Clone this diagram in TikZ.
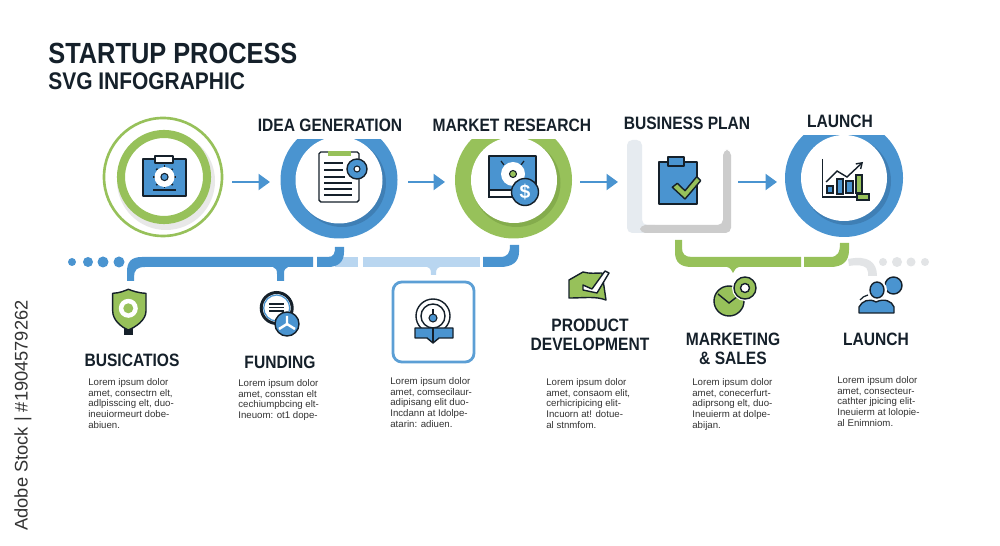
\documentclass[tikz,border=0pt]{standalone}
\usepackage{fontspec}
\setmainfont{Liberation Sans}
\newfontfamily\headfont[FakeStretch=0.87]{Liberation Sans}
\usetikzlibrary{arrows.meta}
\definecolor{stepblue}{HTML}{4A94D0}
\definecolor{stepblueDark}{HTML}{3F7FB5}
\definecolor{stepgreen}{HTML}{97C15A}
\definecolor{stepgreenDark}{HTML}{84AC4C}
\definecolor{inkdark}{HTML}{15202A}
\definecolor{paleblue}{HTML}{B9D6F0}
\definecolor{palegrey}{HTML}{E2E4E6}
\definecolor{palestrip}{HTML}{E6EBF0}
\def\px{0.02cm}
\tikzset{
	hub/.style={rectangle, inner sep=0pt, outer sep=0pt, minimum height=0pt},
	heading/.style={font=\headfont\bfseries\fontsize{10.2}{10.8}\selectfont, text=inkdark, align=center, inner sep=0pt},
	bodytext/.style={font=\fontsize{5.5}{6.1}\selectfont, text=black!80, align=left, anchor=north west, inner sep=0pt},
	flow/.style={line width=1.5pt, stepblue, -{Triangle[length=6.5pt,width=9pt]}},
	ink/.style={draw=inkdark, line width=0.8pt, line join=round},
	inkthin/.style={draw=inkdark, line width=0.6pt}
}
\begin{document}
\begin{tikzpicture}[x=0.02cm, y=-0.02cm]
	\useasboundingbox (0,0) rectangle (1000,546);
	\fill[white] (0,0) rectangle (1000,546);

	\node (title) [anchor=base west, inner sep=0pt, text=inkdark, font=\headfont\bfseries\fontsize{16.6}{16}\selectfont] at (48,64) {STARTUP PROCESS};
	\node (subtitle) [anchor=base west, inner sep=0pt, text=inkdark, font=\headfont\bfseries\fontsize{13.7}{13}\selectfont] at (48,90) {SVG INFOGRAPHIC};
	\node (stock) [rotate=90, anchor=west, inner sep=0pt, text=black!80, font=\fontsize{10.4}{11}\selectfont] at (23,531) {Adobe Stock | \#1904579262};

	% first ring
	\fill[black!9] (166,181) circle (49);
	\fill[white] (164,177) circle (44);
	\draw[stepgreen, line width=1.5pt] (163,177) circle (59);
	\draw[stepgreen, line width=4.6pt] (164,177) circle (43);

	% cut rings
	\begin{scope}
		\clip (270,140) rectangle (400,245);
		\fill[stepblue] (339,180) circle (58.5);
		\fill[stepblueDark] (342,183) circle (44);
		\fill[white] (339,180) circle (43.5);
	\end{scope}
	\begin{scope}
		\clip (445,140) rectangle (580,245);
		\fill[stepgreen] (513.5,180) circle (58.5);
		\fill[stepgreenDark] (516.5,183) circle (44);
		\fill[white] (514,180) circle (43);
	\end{scope}
	\begin{scope}
		\clip (775,136) rectangle (910,245);
		\fill[stepblue] (844,178) circle (59);
		\fill[stepblueDark] (847,181) circle (44);
		\fill[white] (844,178) circle (43);
	\end{scope}

	% square
	\fill[palestrip, rounded corners=3pt] (627,140) -- (642,140) -- (642,225) -- (660,225) -- (660,233) -- (627,233) -- cycle;
	\fill[rounded corners=3pt, black!20] (640,225) -- (723,225) -- (723,150) -- (731,150) -- (731,233) -- (640,233) -- cycle;

	% hubs for the arrows
	\node (startHub) [hub, minimum width=138*\px] at (163,182) {};
	\node (ideaHub) [hub, minimum width=138*\px] at (339,182) {};
	\node (marketHub) [hub, minimum width=135*\px] at (512.5,182) {};
	\node (planHub) [hub, minimum width=120*\px] at (678,182) {};
	\node (launchHub) [hub, minimum width=134*\px] at (844,182) {};

	\begin{scope}[flow]
		\draw[flow] (startHub) -- (ideaHub);
		\draw[flow] (ideaHub) -- (marketHub);
		\draw[flow] (marketHub) -- (planHub);
		\draw[flow] (planHub) -- (launchHub);
	\end{scope}

	% top headings
	\node (ideaLabel) [heading] at (330,125) {IDEA GENERATION};
	\node (marketLabel) [heading] at (512,125) {MARKET RESEARCH};
	\node (planLabel) [heading] at (687,123) {BUSINESS PLAN};
	\node (launchLabel) [heading] at (840,121) {LAUNCH};

	% clipboard with gear
	\fill[stepblue, ink] (143,159) rectangle (186,196);
	\fill[white, ink] (155,156) rectangle (173,163);
	\foreach \a in {0,45,...,315}
		\draw[inkdark, line width=1pt] (164.5,177) -- ++(\a:11.5);
	\fill[white] (164.5,177) circle (10);
	\fill[stepblue, inkthin] (164.5,177) circle (3.6);
	\draw[inkdark, line width=0.7pt] (153,190) -- (176,190);

	% document
	\fill[white, ink, rounded corners=1pt] (319,152) rectangle (359,202);
	\fill[stepgreen] (328,151) rectangle (351,156);
	\foreach \y/\e in {163/343,170/343,177/345,183/352,189/352,195/352}
		\draw[inkdark, line width=0.8pt] (324,\y) -- (\e,\y);
	\fill[stepblue, ink] (357,169) circle (10);
	\fill[white, inkthin] (357,169) circle (3);

	% screen with coin
	\fill[stepblue, ink] (489,156) rectangle (536,197);
	\fill[white, inkthin] (489,190) rectangle (536,197);
	\draw[inkdark, line width=0.7pt] (501,161) -- (504,165) (524,161) -- (521,165);
	\fill[white] (513,174) circle (12);
	\fill[stepgreen, inkthin] (513,174) circle (3.5);
	\fill[stepblue, ink] (525,192) circle (13.5);
	\node (coinSign) [inner sep=0pt, text=white, font=\bfseries\fontsize{11}{11}\selectfont] at (525,192) {\$};

	% clipboard with check
	\fill[stepblue, ink] (659,162) rectangle (697,204);
	\fill[stepblue, ink] (668,157) rectangle (684,166);
	\fill[stepgreen, ink] (672.3,187.3) -- (677.3,183.3) -- (685,190.7) -- (696.7,176.7) -- (700.7,180.7) -- (685,199) -- cycle;

	% chart
	\draw[inkdark, line width=0.8pt] (822.7,159) -- (822.7,197) -- (858,197);
	\fill[stepblue, inkthin] (827,186) rectangle (833,193);
	\fill[stepblue, inkthin] (837,179) rectangle (843,194);
	\fill[stepblue, inkthin] (846,181) rectangle (853,193);
	\fill[stepgreen, inkthin] (856,175) rectangle (862,193);
	\fill[stepgreen, inkthin] (857,194) rectangle (869,200);
	\draw[inkdark, line width=0.8pt, -{Straight Barb[length=3pt,width=4pt]}] (826,182) -- (837,171) -- (847,177) -- (863,162);

	% blue and pale bars
	\fill[paleblue] (335,257) rectangle (358,267);
	\fill[paleblue] (363,257) rectangle (480,267);
	\fill[paleblue] (427,267) .. controls (431,268) and (431,271) .. (431,275) -- (436,275) .. controls (436,271) and (436,268) .. (440,267) -- cycle;
	\fill[stepblue] (127,281) -- (127,272) .. controls (127,262) and (131,257) .. (142,257) -- (313,257) -- (313,267) -- (145,267) .. controls (137,267) and (134,270) .. (134,277) -- (134,281) -- cycle;
	\fill[stepblue] (273,267) .. controls (276,268) and (277,270) .. (277,274) -- (277,281) -- (284,281) -- (284,274) .. controls (284,270) and (285,268) .. (288,267) -- cycle;
	\fill[stepblue] (317,257) -- (328,257) .. controls (334,257) and (335,253) .. (335,247) -- (344,247) -- (344,252) .. controls (344,262) and (338,267) .. (328,267) -- (317,267) -- cycle;
	\fill[stepblue] (483,257) -- (500,257) .. controls (508,257) and (510,253) .. (510,245) -- (519,245) -- (519,252) .. controls (519,262) and (512,267) .. (500,267) -- (483,267) -- cycle;
	\foreach \x/\r in {72/4,88/5,103/5.5,119/5.5}
		\fill[stepblue] (\x,262) circle (\r);

	% green and grey bars
	\fill[stepgreen] (675,240) -- (675,252) .. controls (675,263) and (681,267) .. (692,267) -- (801,267) -- (801,257) -- (692,257) .. controls (685,257) and (682,254) .. (682,248) -- (682,240) -- cycle;
	\fill[stepgreen] (727,267) .. controls (731,268) and (731,270) .. (733,273) .. controls (735,270) and (735,268) .. (739,267) -- cycle;
	\fill[stepgreen] (804,257) -- (830,257) .. controls (838,257) and (840,252) .. (840,243) -- (849,243) -- (849,250) .. controls (849,262) and (842,267) .. (830,267) -- (804,267) -- cycle;
	\fill[palegrey] (848,259) .. controls (868,255) and (877,262) .. (877,276) -- (868,276) -- (868,272) .. controls (868,266) and (860,264) .. (849,266) -- cycle;
	\foreach \x/\r in {883/4,897/5,911/4.5,925/4}
		\fill[palegrey] (\x,262) circle (\r);

	% shield
	\fill[inkdark] (124,328) rectangle (133,335);
	\fill[stepgreen, ink] (112.7,293.3) .. controls (120,293) and (124,291) .. (128.3,289.3) .. controls (133,291) and (138,293) .. (146,293.3) -- (146,311) .. controls (146,320) and (136,327) .. (128.3,330) .. controls (121,327) and (112.7,320) .. (112.7,311) -- cycle;
	\fill[white] (128.3,308.3) circle (9.5);
	\fill[stepgreen] (128.3,308.3) circle (5);

	% funding badge
	\draw[inkdark, line width=1.7pt] (276.7,308) circle (15.5);
	\draw[stepblue, line width=0.7pt] (276.7,308) circle (13);
	\foreach \y in {304,307.5,311}
		\draw[inkdark, line width=0.8pt] (269,\y) -- (284,\y);
	\fill[stepblue, ink] (287,324) circle (12);
	\draw[white, line width=1.4pt] (287,324) -- (287,316) (287,324) -- (279,329) (287,324) -- (295,329);

	% framed icon
	\draw[stepblue!90!white, line width=1.6pt, rounded corners=5pt] (393,282) rectangle (474,362);
	\draw[inkdark, line width=0.8pt] (433,316) circle (17);
	\draw[inkdark, line width=0.8pt] (433,316) circle (12);
	\fill[stepblue, inkthin] (433,318) circle (4);
	\draw[inkdark, line width=0.6pt] (433,314) -- (433,309);
	\fill[white] (415,328) rectangle (453,345);
	\fill[stepblue, ink] (415,328) -- (433,328) -- (453,328) -- (453,338) -- (439,338) -- (433,343) -- (427,338) -- (415,338) -- cycle;
	\draw[inkdark, line width=0.6pt] (433,328) -- (433,343);

	% product icon
	\fill[stepgreen, ink] (569,280) -- (583,272) .. controls (590,274) and (596,273) .. (602,273) -- (606,300) .. controls (595,296) and (585,298) .. (569,298) -- cycle;
	\fill[white, ink] (583,285) -- (592,289) -- (605,271) -- (609,273) -- (597,293) -- (583,290) -- cycle;

	% marketing icon
	\fill[stepgreen, ink] (729,301) circle (15);
	\draw[inkdark, line width=0.8pt] (718,294) -- (729,303) -- (738,296);
	\fill[white] (745,288) circle (13);
	\fill[stepgreen, ink] (745,288) circle (11);
	\fill[white, ink] (745,288) circle (4.5);

	% people icon
	\fill[stepblue, ink] (893.5,285.5) circle (8.5);
	\draw[inkdark, line width=0.7pt] (885,293) -- (883,297);
	\fill[white] (877,290) circle (10);
	\fill[stepblue, ink] (877,290) circle [x radius=7, y radius=8];
	\fill[stepblue, ink] (859,313) -- (859,307) .. controls (862,301) and (869,298) .. (876,302) .. controls (884,298) and (892,301) .. (894,307) -- (894,313) -- cycle;
	\draw[inkdark, line width=0.7pt] (860,300) .. controls (862,297) and (865,296) .. (868,295);

	% lower headings
	\node (busLabel) [heading] at (132,360) {BUSICATIOS};
	\node (fundLabel) [heading] at (280,362) {FUNDING};
	\node (prodLabel) [heading] at (590,334.5) {PRODUCT\\DEVELOPMENT};
	\node (markLabel) [heading] at (733,348.5) {MARKETING\\\& SALES};
	\node (launchLower) [heading] at (876,339) {LAUNCH};

	% lorem blocks
	\node (busText) [bodytext] at (88,378) {Lorem ipsum dolor\\amet, consectrn elt,\\adlpisscing elt, duo-\\ineuiormeurt dobe-\\abiuen.};
	\node (fundText) [bodytext] at (238,379) {Lorem ipsum dolor\\amet, consstan elt\\cechiumpbcing elt-\\Ineuom: ot1 dope-};
	\node (frameText) [bodytext] at (390,377) {Lorem ipsum dolor\\amet, comsecilaur-\\adipisang elit duo-\\Incdann at Idolpe-\\atarin: adiuen.};
	\node (prodText) [bodytext] at (546,378) {Lorem ipsum dolor\\amet, consaom elit,\\cerhicripicing elit-\\Incuorn at! dotue-\\al stnmfom.};
	\node (markText) [bodytext] at (692,378) {Lorem ipsum dolor\\amet, conecerfurt-\\adiprsong elt, duo-\\Ineuierm at dolpe-\\abijan.};
	\node (launchText) [bodytext] at (837,376) {Lorem ipsum dolor\\amet, consecteur-\\cathter jpicing elit-\\Ineuierm at lolopie-\\al Enimniom.};
\end{tikzpicture}
\end{document}
